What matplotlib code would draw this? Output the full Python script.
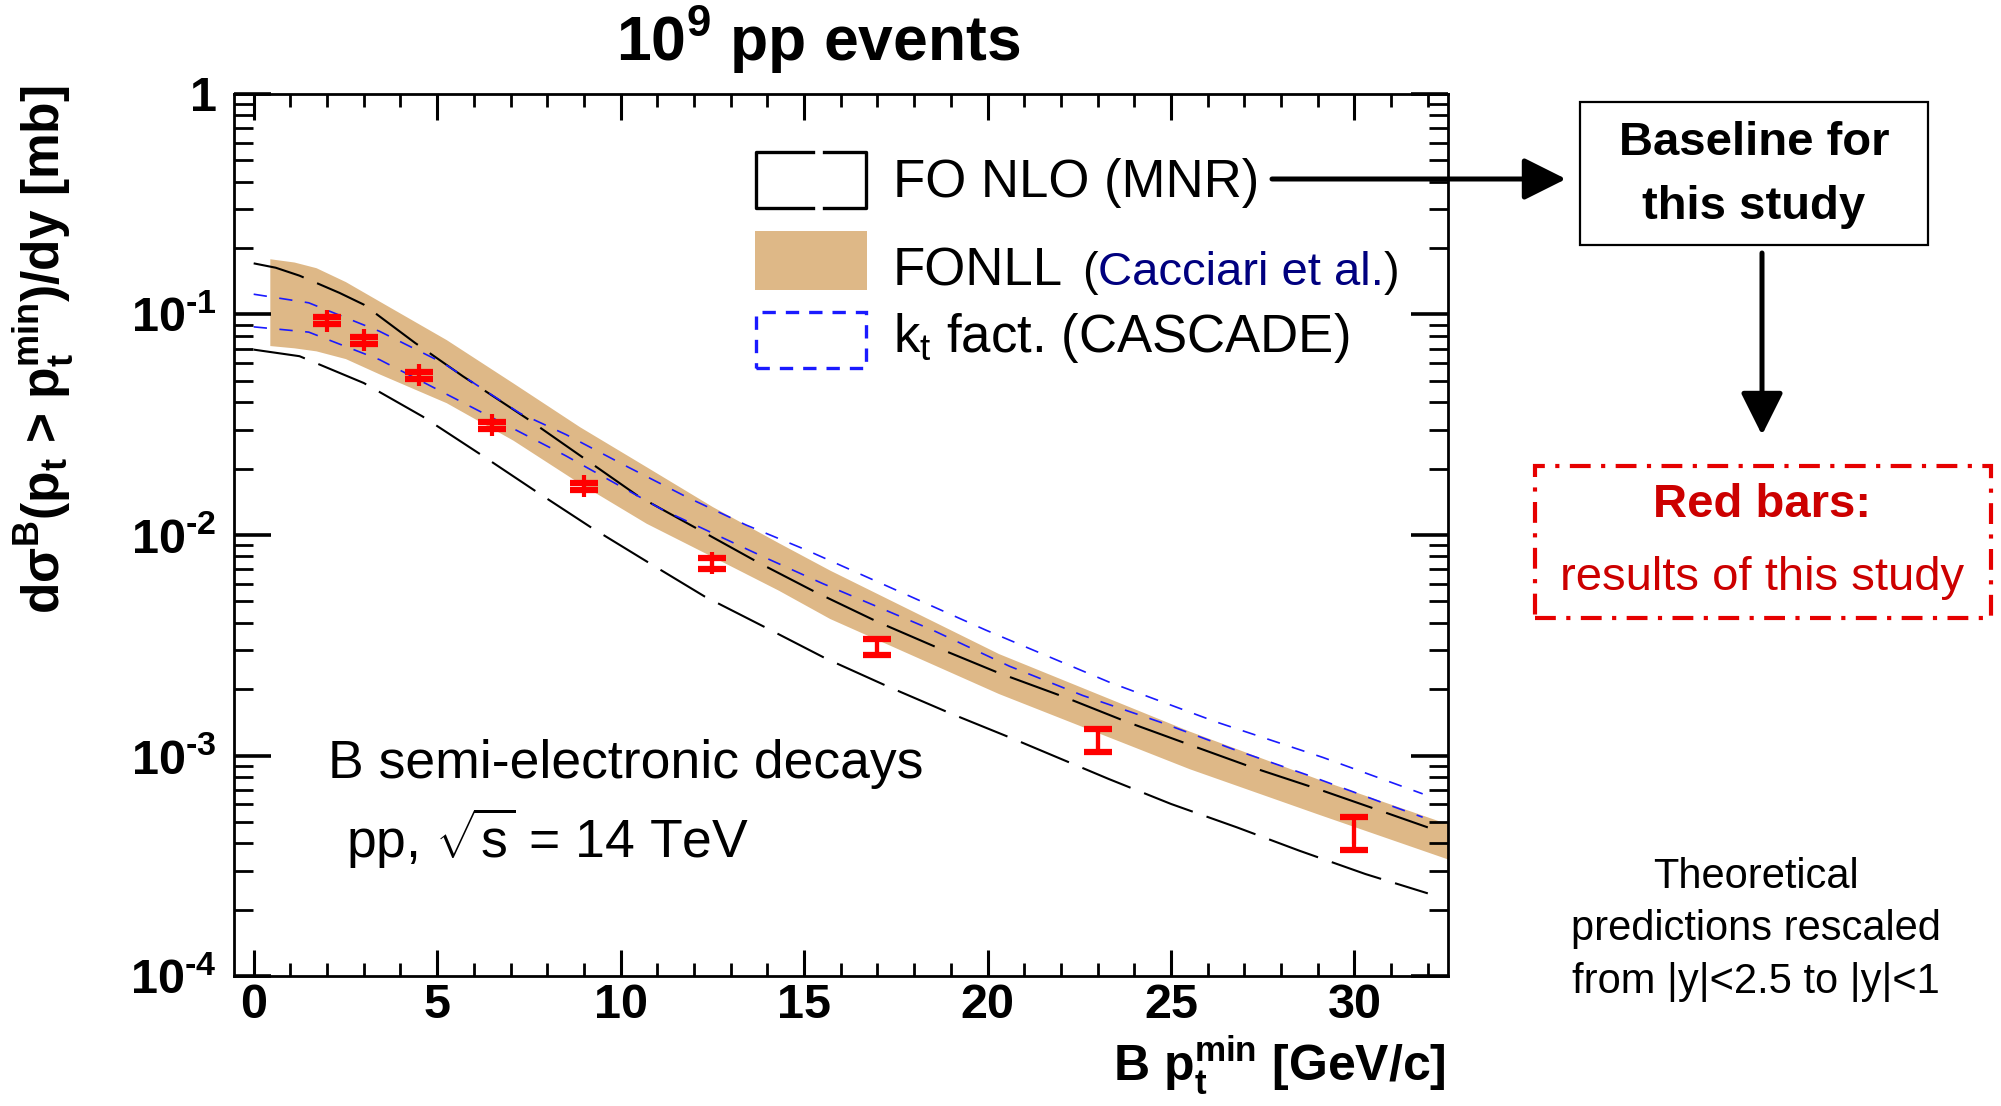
import numpy as np
import matplotlib
matplotlib.use("Agg")
import matplotlib.pyplot as plt
from matplotlib.patches import Rectangle, FancyArrowPatch
from matplotlib.lines import Line2D
from matplotlib.ticker import MultipleLocator, LogLocator, NullFormatter

# ----------------------------------
# Fonts
# ----------------------------------
plt.rcParams['font.family'] = ['Liberation Sans', 'DejaVu Sans']
plt.rcParams['mathtext.fontset'] = 'custom'
plt.rcParams['mathtext.rm'] = 'Liberation Sans'
plt.rcParams['mathtext.bf'] = 'Liberation Sans:bold'
plt.rcParams['mathtext.it'] = 'Liberation Sans:italic'

# ----------------------------------
# Data
# ----------------------------------
# FONLL band (Cacciari et al.)
band_x = [0.44, 1.1, 1.7, 2.5, 3.43, 5.25, 7.07, 8.88, 10.7, 12.5, 14.3, 15.7, 20.3, 25.5, 29.0, 32.55]
band_hi = [0.179, 0.173, 0.163, 0.141, 0.1148, 0.0769, 0.0489, 0.0310, 0.0204, 0.01346, 0.00923,
           0.00693, 0.0029, 0.00129, 0.000783, 0.000489]
band_lo = [0.0723, 0.0706, 0.0684, 0.0631, 0.0537, 0.0398, 0.0269, 0.01718, 0.0113, 0.00798, 0.00562,
           0.00418, 0.00191, 0.000871, 0.000543, 0.000339]

# FO NLO (MNR) upper / lower
mnr_up_x = [0, 0.6, 1.25, 2.34, 3.0, 4.4, 5.7, 7.5, 9.0, 10.5, 12.15, 13.8, 15.3, 17.0, 18.7,
            20.3, 22.1, 23.8, 25.5, 27.2, 29.0, 30.7, 32.0]
mnr_up_y = [0.1706, 0.163, 0.150, 0.1253, 0.1109, 0.0743, 0.0525, 0.0333, 0.0223, 0.01493,
            0.01054, 0.00743, 0.00552, 0.00404, 0.00305, 0.00237, 0.00184, 0.00142, 0.00112,
            0.000885, 0.000705, 0.000562, 0.000472]
mnr_lo_x = [0, 1.25, 3.0, 4.6, 6.2, 7.7, 9.2, 10.8, 12.3, 14.0, 15.6, 17.3, 19.0, 20.7,
            23.3, 25.0, 26.8, 28.5, 30.3, 32.0]
mnr_lo_y = [0.0693, 0.0647, 0.0489, 0.0345, 0.0231, 0.01574, 0.01081, 0.00743, 0.00525,
            0.00377, 0.00275, 0.00205, 0.00155, 0.00119, 0.000783, 0.000603, 0.000472,
            0.00037, 0.00029, 0.000237]

# kt factorisation (CASCADE) upper / lower
kt_up_x = [0, 1.5, 3.43, 5.16, 7.25, 8.52, 10.16, 11.79, 13.42, 15.06, 16.69, 18.33, 19.96,
           23.32, 26.23, 29.14, 31.86]
kt_up_y = [0.1236, 0.113, 0.0839, 0.0603, 0.0357, 0.0285, 0.0205, 0.0149, 0.0111, 0.00855,
           0.00647, 0.00489, 0.0037, 0.00215, 0.00142, 0.00098, 0.00067]
kt_lo_x = [0, 1.5, 3.43, 6.16, 8.5, 11.15, 13.88, 15.5, 18.51, 20.6, 22.6, 24.69, 26.68,
           28.77, 30.86, 31.86]
kt_lo_y = [0.0879, 0.0832, 0.0624, 0.0364, 0.0229, 0.0130, 0.00798, 0.00603, 0.0037,
           0.00254, 0.00187, 0.00142, 0.00107, 0.00081, 0.000603, 0.000525]

# Red bars: results of this study
pt_x = [2, 3, 4.5, 6.5, 9, 12.5, 17, 23, 30]
pt_y = [0.0938, 0.0766, 0.0529, 0.0315, 0.0166, 0.00743, 0.00310, 0.00118, 0.000445]
pt_lo = [0.0904, 0.0738, 0.0508, 0.0304, 0.0160, 0.0070, 0.00285, 0.00104, 0.000372]
pt_hi = [0.0973, 0.0794, 0.0551, 0.0327, 0.0173, 0.00789, 0.00336, 0.00132, 0.000528]

xtick_vals = [0, 5, 10, 15, 20, 25, 30]
ytick_vals = [1e-4, 1e-3, 1e-2, 1e-1, 1]
HY = '\u2010'
ytick_labels = ['10$^{\\mathbf{' + HY + '4}}$', '10$^{\\mathbf{' + HY + '3}}$',
                '10$^{\\mathbf{' + HY + '2}}$', '10$^{\\mathbf{' + HY + '1}}$', '1']

# ----------------------------------
# Figure / axes
# ----------------------------------
W, H = 2001, 1106


def fx(px):
    return px / W


def fy(py):
    return 1 - py / H


fig = plt.figure(figsize=(W / 100, H / 100), dpi=100)
ax = fig.add_axes([fx(233.5), fy(976), (1448 - 233.5) / W, (976 - 94) / H])

ax.fill_between(band_x, band_lo, band_hi, color='#deb887', lw=0, zorder=1)
ax.plot(mnr_up_x, mnr_up_y, color='black', lw=1.5, dashes=(25, 7), zorder=3)
ax.plot(mnr_lo_x, mnr_lo_y, color='black', lw=1.5, dashes=(25, 7), zorder=3)
ax.plot(kt_up_x, kt_up_y, color='#1a1aff', lw=1.2, dashes=(8, 7.5), zorder=3)
ax.plot(kt_lo_x, kt_lo_y, color='#1a1aff', lw=1.2, dashes=(8, 7.5), zorder=3)

yerr = [np.array(pt_y) - np.array(pt_lo), np.array(pt_hi) - np.array(pt_y)]
ax.errorbar(pt_x, pt_y, yerr=yerr, fmt='none', ecolor='red', elinewidth=3.0,
            capsize=9.8, capthick=4.5, zorder=5)
ax.plot(pt_x, pt_y, linestyle='none', marker='|', ms=16, mew=3.0, color='red', zorder=5)

ax.set_yscale('log')
ax.set_xlim(-0.55, 32.55)
ax.set_ylim(1e-4, 1)

ax.set_xticks(xtick_vals)
ax.set_xticklabels([str(v) for v in xtick_vals], fontweight='bold')
ax.xaxis.set_minor_locator(MultipleLocator(1))
ax.set_yticks(ytick_vals)
ax.set_yticklabels(ytick_labels, fontweight='bold')
ax.yaxis.set_minor_locator(LogLocator(base=10, subs=np.arange(2, 10)))
ax.yaxis.set_minor_formatter(NullFormatter())

ax.tick_params(axis='both', which='both', direction='in', top=True, right=True)
ax.tick_params(axis='x', which='major', length=18.7, width=2.2, pad=5, labelsize=35)
ax.tick_params(axis='x', which='minor', length=9.7, width=2)
ax.tick_params(axis='y', which='major', length=26.6, width=2.6, pad=12, labelsize=35)
ax.tick_params(axis='y', which='minor', length=13.7, width=2)
for s in ax.spines.values():
    s.set_linewidth(2)

# ----------------------------------
# Titles and axis labels
# ----------------------------------
fig.text(fx(818), fy(61), r'10$^{\mathbf{9}}$ pp events', ha='center', va='baseline',
         fontsize=45, fontweight='bold')
fig.text(fx(44), fy(350),
         r'd$\mathbf{\sigma}^{\mathbf{B}}$(p$_{\mathbf{t}}$ > p$_{\mathbf{t}}^{\mathbf{min}}$)/dy [mb]',
         rotation=90, ha='center', va='center', fontsize=37, fontweight='bold')
fig.text(fx(1446), fy(1082), r'B p$_{\mathbf{t}}^{\mathbf{min}}$ [GeV/c]', ha='right',
         va='baseline', fontsize=36, fontweight='bold')

# ----------------------------------
# In-plot text
# ----------------------------------
fig.text(fx(328), fy(778), 'B semi-electronic decays', fontsize=38.5, va='baseline')
fig.text(fx(346), fy(858), r'pp, $\sqrt{\mathrm{s}}$ = 14 TeV', fontsize=38.5, va='baseline')

# ----------------------------------
# Legend (drawn by hand, ROOT style)
# ----------------------------------
# FO NLO: box outline broken in the middle of the top and bottom edges
for xs in [(813, 756, 756, 813), (824, 866, 866, 824)]:
    fig.add_artist(Line2D([fx(v) for v in xs], [fy(152), fy(152), fy(208), fy(208)],
                          transform=fig.transFigure, color='black', lw=2.4))
fig.add_artist(Rectangle((fx(755), fy(290)), (867 - 755) / W, (290 - 231) / H,
                         transform=fig.transFigure, facecolor='#deb887', edgecolor='none'))
fig.add_artist(Rectangle((fx(756), fy(368)), (866 - 756) / W, (368 - 312) / H,
                         transform=fig.transFigure, fill=False, edgecolor='#1a1aff',
                         lw=2.4, linestyle=(0, (4, 3))))

fig.text(fx(893), fy(197), 'FO NLO (MNR)', fontsize=38, va='baseline')
fig.text(fx(893), fy(285), 'FONLL', fontsize=38, va='baseline')
fig.text(fx(893), fy(352), r'k$_{\mathrm{t}}$ fact. (CASCADE)', fontsize=38, va='baseline')

renderer = fig.canvas.get_renderer()
x0 = fx(1082)
for txt, col in [('(', 'black'), ('Cacciari et al.', '#00007f'), (')', 'black')]:
    t = fig.text(x0, fy(285), txt, fontsize=34, va='baseline', color=col)
    bb = t.get_window_extent(renderer=renderer)
    x0 = bb.x1 / fig.bbox.width

# ----------------------------------
# Annotations on the right
# ----------------------------------
fig.add_artist(Rectangle((fx(1580), fy(245)), (1928 - 1580) / W, (245 - 102) / H,
                         transform=fig.transFigure, fill=False, edgecolor='black', lw=1.6))
fig.text(fx(1754), fy(143), 'Baseline for', ha='center', va='center', fontsize=34,
         fontweight='bold')
fig.text(fx(1754), fy(207), 'this study', ha='center', va='center', fontsize=34,
         fontweight='bold')

fig.add_artist(FancyArrowPatch((fx(1272), fy(179)), (fx(1566), fy(179)),
                               transform=fig.transFigure, arrowstyle='-|>,head_length=1.3,head_width=0.65',
                               mutation_scale=20, lw=3.6, color='black',
                               shrinkA=0, shrinkB=0))
fig.add_artist(FancyArrowPatch((fx(1762), fy(253)), (fx(1762), fy(435)),
                               transform=fig.transFigure, arrowstyle='-|>,head_length=1.3,head_width=0.65',
                               mutation_scale=20, lw=3.6, color='black',
                               shrinkA=0, shrinkB=0))

fig.add_artist(Rectangle((fx(1535), fy(618)), (1991 - 1535) / W, (618 - 466) / H,
                         transform=fig.transFigure, fill=False, edgecolor='#e60000',
                         lw=3, linestyle=(0, (5, 2.5, 1, 2.5))))
fig.text(fx(1762), fy(505), 'Red bars:', ha='center', va='center', fontsize=34,
         fontweight='bold', color='#cc0000')
fig.text(fx(1762), fy(578), 'results of this study', ha='center', va='center', fontsize=34,
         color='#cc0000')

for line, ypx in [('Theoretical', 877), ('predictions rescaled', 929),
                  ('from |y|<2.5 to |y|<1', 982)]:
    fig.text(fx(1756), fy(ypx), line, ha='center', va='center', fontsize=30)

fig.savefig('out.png', dpi=100)
